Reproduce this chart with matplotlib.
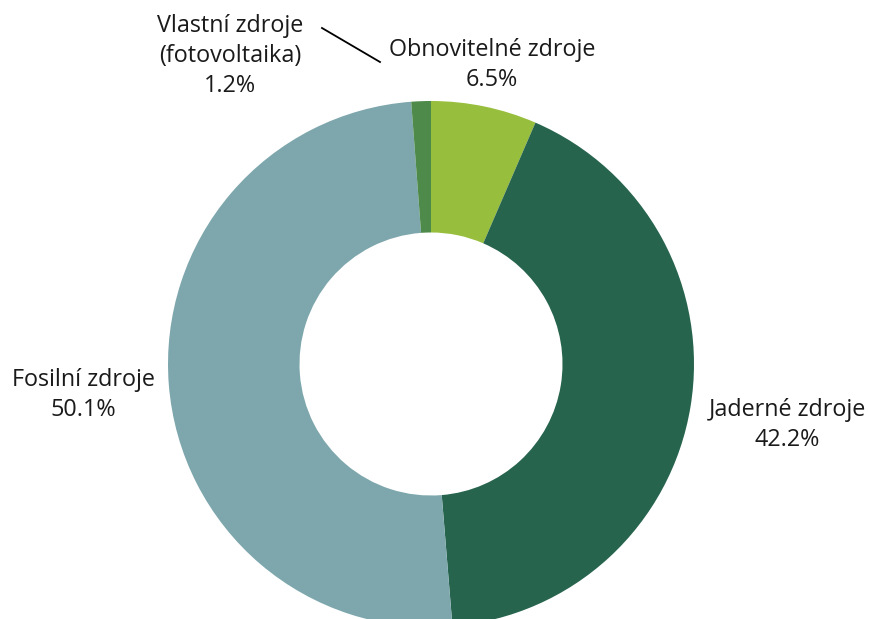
import matplotlib.pyplot as plt

# Struktura zdroju
zdroje = ['Obnovitelné zdroje', 'Jaderné zdroje', 'Fosilní zdroje', 'Vlastní zdroje\n(fotovoltaika)']
podily = [6.5, 42.2, 50.1, 1.2]
barvy = ['#97BE3D', '#27644E', '#7DA7AD', '#4E8A4A']

plt.rcParams['font.family'] = ['Open Sans', 'DejaVu Sans']

fig = plt.figure(figsize=(8.7, 6.19), dpi=100)
ax = fig.add_axes([0, 0, 1, 1])

stred = (431, 255)
polomer = 263
ax.pie(podily, colors=barvy, startangle=90, counterclock=False,
       center=stred, radius=polomer, frame=True,
       wedgeprops=dict(width=131.5, linewidth=0))
ax.set_xlim(0, 870)
ax.set_ylim(0, 619)
ax.axis('off')

# pozice popisku
pozice = [(492, 554), (787, 194), (83, 224), (230, 563)]
for nazev, hodnota, (x, y) in zip(zdroje, podily, pozice):
    ax.text(x, y, f'{nazev}\n{hodnota:.1f}%', ha='center', va='center',
            fontsize=16.8, color='#1a1a1a', linespacing=1.32)

# vodici cara pro fotovoltaiku
ax.plot([322, 380], [591, 557], color='black', linewidth=1.3)

fig.savefig('out.png', dpi=100)
